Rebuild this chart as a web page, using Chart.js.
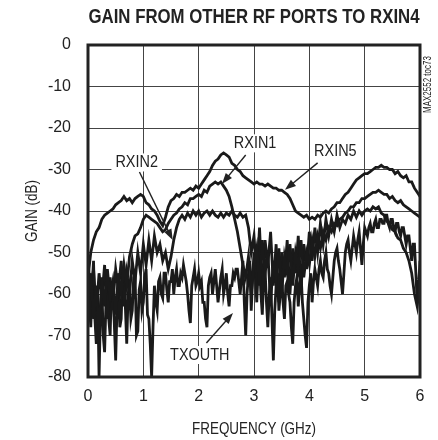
<!DOCTYPE html>
<html>
<head>
<meta charset="utf-8">
<script src="https://cdn.jsdelivr.net/npm/chart.js@4.4.1/dist/chart.umd.min.js"></script>
<style>
  html, body { margin: 0; padding: 0; background: #fff; }
  #gainChart { display: block; }
</style>
</head>
<body>
<canvas id="gainChart" width="438" height="440"></canvas>
<script>
// frequency points (GHz) for the RXIN traces
const freq = [
  0, 0.05, 0.1, 0.15, 0.2, 0.25, 0.3, 0.35, 0.4, 0.45,
  0.5, 0.55, 0.6, 0.65, 0.7, 0.75, 0.8, 0.85, 0.9, 0.95,
  1, 1.05, 1.1, 1.15, 1.2, 1.25, 1.3, 1.35, 1.4, 1.45,
  1.5, 1.55, 1.6, 1.65, 1.7, 1.75, 1.8, 1.85, 1.9, 1.95,
  2, 2.05, 2.1, 2.15, 2.2, 2.25, 2.3, 2.35, 2.4, 2.45,
  2.5, 2.55, 2.6, 2.65, 2.7, 2.75, 2.8, 2.85, 2.9, 2.95,
  3, 3.05, 3.1, 3.15, 3.2, 3.25, 3.3, 3.35, 3.4, 3.45,
  3.5, 3.55, 3.6, 3.65, 3.7, 3.75, 3.8, 3.85, 3.9, 3.95,
  4, 4.05, 4.1, 4.15, 4.2, 4.25, 4.3, 4.35, 4.4, 4.45,
  4.5, 4.55, 4.6, 4.65, 4.7, 4.75, 4.8, 4.85, 4.9, 4.95,
  5, 5.05, 5.1, 5.15, 5.2, 5.25, 5.3, 5.35, 5.4, 5.45,
  5.5, 5.55, 5.6, 5.65, 5.7, 5.75, 5.8, 5.85, 5.9, 5.95,
  6
];

// finer frequency points (GHz) for the noisy TXOUTH trace
const freqFine = [
  0, 0.025, 0.05, 0.075, 0.1, 0.125, 0.15, 0.175, 0.2, 0.225, 0.25, 0.275, 0.3, 0.325, 0.35, 0.375, 0.4, 0.425, 0.45, 0.475,
  0.5, 0.525, 0.55, 0.575, 0.6, 0.625, 0.65, 0.675, 0.7, 0.725, 0.75, 0.775, 0.8, 0.825, 0.85, 0.875, 0.9, 0.925, 0.95, 0.975,
  1, 1.025, 1.05, 1.075, 1.1, 1.125, 1.15, 1.175, 1.2, 1.225, 1.25, 1.275, 1.3, 1.325, 1.35, 1.375, 1.4, 1.425, 1.45, 1.475,
  1.5, 1.525, 1.55, 1.575, 1.6, 1.625, 1.65, 1.675, 1.7, 1.725, 1.75, 1.775, 1.8, 1.825, 1.85, 1.875, 1.9, 1.925, 1.95, 1.975,
  2, 2.025, 2.05, 2.075, 2.1, 2.125, 2.15, 2.175, 2.2, 2.225, 2.25, 2.275, 2.3, 2.325, 2.35, 2.375, 2.4, 2.425, 2.45, 2.475,
  2.5, 2.525, 2.55, 2.575, 2.6, 2.625, 2.65, 2.675, 2.7, 2.725, 2.75, 2.775, 2.8, 2.825, 2.85, 2.875, 2.9, 2.925, 2.95, 2.975,
  3, 3.025, 3.05, 3.075, 3.1, 3.125, 3.15, 3.175, 3.2, 3.225, 3.25, 3.275, 3.3, 3.325, 3.35, 3.375, 3.4, 3.425, 3.45, 3.475,
  3.5, 3.525, 3.55, 3.575, 3.6, 3.625, 3.65, 3.675, 3.7, 3.725, 3.75, 3.775, 3.8, 3.825, 3.85, 3.875, 3.9, 3.925, 3.95, 3.975,
  4, 4.025, 4.05, 4.075, 4.1, 4.125, 4.15, 4.175, 4.2, 4.225, 4.25, 4.275, 4.3, 4.325, 4.35, 4.375, 4.4, 4.425, 4.45, 4.475,
  4.5, 4.525, 4.55, 4.575, 4.6, 4.625, 4.65, 4.675, 4.7, 4.725, 4.75, 4.775, 4.8, 4.825, 4.85, 4.875, 4.9, 4.925, 4.95, 4.975,
  5, 5.025, 5.05, 5.075, 5.1, 5.125, 5.15, 5.175, 5.2, 5.225, 5.25, 5.275, 5.3, 5.325, 5.35, 5.375, 5.4, 5.425, 5.45, 5.475,
  5.5, 5.525, 5.55, 5.575, 5.6, 5.625, 5.65, 5.675, 5.7, 5.725, 5.75, 5.775, 5.8, 5.825, 5.85, 5.875, 5.9, 5.925, 5.95, 5.975,
  6
];

// gain (dB)
const rxin5 = [
  -56, -50, -47, -45, -44, -42, -41, -40.5, -40, -39.5,
  -38.5, -38, -37.5, -36.5, -37.5, -37, -38, -37, -36.5, -36,
  -36.5, -38, -38.5, -39.5, -40, -41, -42.5, -43.5, -41.5, -39,
  -37.5, -37, -36, -36.5, -35.5, -35.5, -35, -34.5, -35, -34,
  -34.5, -33.5, -32.5, -31.5, -30.5, -29, -28, -27.5, -26.5, -26,
  -26.5, -27, -28.5, -29, -30, -30.5, -31.5, -32, -32.5, -33,
  -33.5, -33, -33.5, -33.5, -34, -33.5, -34, -34.5, -34.5, -35,
  -35, -35.5, -36, -37, -38.5, -40, -40.5, -41, -41.5, -41,
  -42, -41.5, -42, -41, -41.5, -40.5, -40, -40.5, -39.5, -39,
  -38, -38, -37, -36, -35.5, -34.5, -33.5, -32.5, -32, -31.5,
  -31, -31, -30.5, -30, -29.5, -29.5, -29, -29.5, -29.5, -30,
  -30, -31, -30.5, -31.5, -32, -31.5, -33, -33, -34.5, -35.5,
  -36.5
];

const rxin1 = [
  -62, -55, -66, -58, -70, -56, -63, -54, -61, -57,
  -65, -55, -60, -53, -58, -51, -48, -46, -45.5, -44,
  -42, -41, -41.5, -42, -42.5, -43, -44, -45, -44.5, -43,
  -42, -41, -40.5, -39.5, -39, -38, -38.5, -37, -37, -36.5,
  -36, -36.5, -35, -35.5, -34, -33.5, -33, -33.5, -33, -34,
  -35, -36.5, -39, -42, -45, -49, -53, -56, -51, -60,
  -53, -49, -58, -47, -55, -50, -62, -52, -57, -49,
  -60, -51, -55, -48, -58, -50, -54, -47, -56, -50,
  -53, -47, -51, -46, -49, -45, -47, -44, -45, -43,
  -43.5, -42, -41.5, -40.5, -40, -39, -39, -38, -38, -37,
  -37, -36.5, -36, -35.5, -35.5, -35, -35.5, -36, -36, -37,
  -36.5, -37.5, -38, -37.5, -38.5, -39, -39.5, -40, -40.5, -41,
  -41.5
];

const rxin2 = [
  -52, -60, -54, -64, -55, -61, -53, -66, -56, -62,
  -54, -59, -52, -63, -55, -60, -52, -57, -50, -55,
  -48, -53, -47, -52, -46, -50, -48, -52, -50, -54,
  -51, -47, -44, -42, -41, -42, -40.5, -41.5, -40, -41,
  -40, -41.5, -40.5, -40, -41, -40, -41, -41.5, -40.5, -41.5,
  -40.5, -41, -40, -41, -41.5, -40.5, -41.5, -41, -44, -50,
  -46, -56, -44, -60, -47, -53, -45, -58, -48, -62,
  -50, -56, -47, -60, -49, -55, -46, -59, -48, -54,
  -45, -52, -44, -50, -43, -48, -42, -46, -42, -45,
  -41, -44, -42, -43, -41, -42, -40, -41.5, -40, -41,
  -40, -39.5, -40, -39, -39.5, -39, -40.5, -41, -42.5, -43,
  -44.5, -45, -46.5, -47, -49, -50, -52, -55, -60, -63,
  -56
];

const txouth = [
  -55, -62, -68, -58, -52, -66, -72, -60, -80, -64, -58, -70, -74, -62, -56, -66, -70, -58, -60, -67,
  -76, -63, -57, -68, -66, -55, -54, -63, -72, -60, -58, -66, -64, -56, -55, -70, -69, -59, -57, -64,
  -62, -56, -54, -65, -66, -72, -80, -68, -58, -62, -64, -57, -56, -60, -61, -55, -55, -59, -62, -57,
  -57, -54, -60, -56, -54, -58, -58, -55, -56, -53, -55, -57, -60, -64, -67, -58, -56, -54, -58, -57,
  -55, -58, -57, -62, -62, -66, -68, -58, -56, -55, -60, -57, -54, -58, -62, -59, -56, -54, -60, -58,
  -55, -60, -63, -58, -58, -55, -56, -54, -54, -57, -60, -56, -52, -62, -70, -60, -55, -52, -64, -56,
  -50, -56, -62, -54, -52, -60, -65, -56, -54, -62, -68, -60, -56, -66, -76, -64, -58, -55, -64, -60,
  -55, -62, -66, -58, -57, -60, -62, -68, -72, -62, -58, -56, -63, -58, -55, -62, -66, -70, -73, -62,
  -58, -55, -62, -57, -54, -56, -58, -54, -52, -55, -56, -52, -50, -54, -55, -58, -60, -56, -52, -50,
  -49, -52, -54, -57, -60, -55, -50, -48, -47, -50, -52, -49, -46, -48, -50, -47, -45, -49, -53, -48,
  -44, -45, -46, -44, -43, -45, -45, -43, -42, -44, -44, -42, -42, -43, -43, -41, -41, -43, -44, -42,
  -42, -44, -45, -43, -43, -45, -46, -44, -44, -46, -48, -46, -46, -49, -52, -48, -48, -55, -62, -58,
  -52
];

const seriesNames = ['RXIN5', 'RXIN1', 'RXIN2', 'TXOUTH'];
const seriesFreq = [freq, freq, freq, freqFine];
const seriesValues = [rxin5, rxin1, rxin2, txouth];

// callouts: label position and arrow, in data units (GHz, dB)
const callouts = [
  { text: 'RXIN2', at: [0.88, -28.3], from: [0.93, -30.6], to: [1.53, -47] },
  { text: 'RXIN1', at: [3.02, -23.7], from: [2.85, -26.5], to: [2.42, -33.5] },
  { text: 'RXIN5', at: [4.47, -25.5], from: [4.15, -28.4], to: [3.56, -34.9] },
  { text: 'TXOUTH', at: [2.02, -74.7], from: [2.14, -71.8], to: [2.62, -64.6] }
];

const sans = '"Liberation Sans", Arial, sans-serif';

// draw text squeezed horizontally, to mimic the condensed face of the original
function narrowText(ctx, text, x, y, squeeze) {
  ctx.save();
  ctx.translate(x, y);
  ctx.scale(squeeze, 1);
  ctx.fillText(text, 0, 0);
  ctx.restore();
}

const extras = {
  id: 'extras',
  afterDatasetsDraw(chart) {
    const { ctx, chartArea: a, scales: { x, y } } = chart;
    ctx.save();
    // frame
    ctx.strokeStyle = '#222';
    ctx.lineWidth = 3;
    ctx.strokeRect(a.left, a.top, a.right - a.left, a.bottom - a.top);

    ctx.font = '17px ' + sans;
    ctx.textAlign = 'center';
    ctx.textBaseline = 'middle';
    callouts.forEach(c => {
      const lx = x.getPixelForValue(c.at[0]);
      const ly = y.getPixelForValue(c.at[1]);
      const w = ctx.measureText(c.text).width * 0.85;
      ctx.fillStyle = '#fff';
      ctx.fillRect(lx - w / 2 - 4, ly - 9, w + 8, 18);
      ctx.fillStyle = '#222';
      narrowText(ctx, c.text, lx, ly, 0.85);

      const x1 = x.getPixelForValue(c.from[0]), y1 = y.getPixelForValue(c.from[1]);
      const x2 = x.getPixelForValue(c.to[0]), y2 = y.getPixelForValue(c.to[1]);
      const ang = Math.atan2(y2 - y1, x2 - x1);
      ctx.strokeStyle = '#222';
      ctx.lineWidth = 1.4;
      ctx.beginPath();
      ctx.moveTo(x1, y1);
      ctx.lineTo(x2 - 8 * Math.cos(ang), y2 - 8 * Math.sin(ang));
      ctx.stroke();
      ctx.beginPath();
      ctx.moveTo(x2, y2);
      ctx.lineTo(x2 - 11 * Math.cos(ang) + 4 * Math.sin(ang), y2 - 11 * Math.sin(ang) - 4 * Math.cos(ang));
      ctx.lineTo(x2 - 11 * Math.cos(ang) - 4 * Math.sin(ang), y2 - 11 * Math.sin(ang) + 4 * Math.cos(ang));
      ctx.closePath();
      ctx.fillStyle = '#222';
      ctx.fill();
    });

    // title
    ctx.font = 'bold 20px ' + sans;
    narrowText(ctx, 'GAIN FROM OTHER RF PORTS TO RXIN4', (a.left + a.right) / 2, 17, 0.84);

    // axis titles
    ctx.font = '16px ' + sans;
    narrowText(ctx, 'FREQUENCY (GHz)', (a.left + a.right) / 2, 430, 0.84);
    ctx.save();
    ctx.translate(33, (a.top + a.bottom) / 2);
    ctx.rotate(-Math.PI / 2);
    narrowText(ctx, 'GAIN (dB)', 0, 0, 0.84);
    ctx.restore();

    // side code
    ctx.font = '10px ' + sans;
    ctx.textAlign = 'left';
    ctx.translate(428, 113);
    ctx.rotate(-Math.PI / 2);
    narrowText(ctx, 'MAX2552 toc73', 0, 0, 0.8);
    ctx.restore();
  }
};

new Chart(document.getElementById('gainChart'), {
  type: 'line',
  data: {
    datasets: seriesNames.map((name, i) => ({
      label: name,
      data: seriesFreq[i].map((f, j) => ({ x: f, y: seriesValues[i][j] })),
      borderColor: '#1a1a1a',
      borderWidth: 2.8,
      pointRadius: 0,
      tension: 0
    }))
  },
  options: {
    responsive: false,
    animation: false,
    layout: { padding: { left: 0, top: 45, right: 18, bottom: 0 } },
    plugins: { legend: { display: false }, tooltip: { enabled: false } },
    scales: {
      x: {
        type: 'linear',
        min: 0,
        max: 6,
        afterFit(scale) { scale.height = 63; },
        ticks: { stepSize: 1, padding: 10, color: '#222', font: { family: sans, size: 16 } },
        grid: { color: '#444', lineWidth: 1, drawTicks: false },
        border: { display: false }
      },
      y: {
        min: -80,
        max: 0,
        afterFit(scale) { scale.width = 88; },
        ticks: { stepSize: 10, padding: 17, color: '#222', font: { family: sans, size: 16 } },
        grid: { color: '#444', lineWidth: 1, drawTicks: false },
        border: { display: false }
      }
    }
  },
  plugins: [extras]
});
</script>
</body>
</html>
